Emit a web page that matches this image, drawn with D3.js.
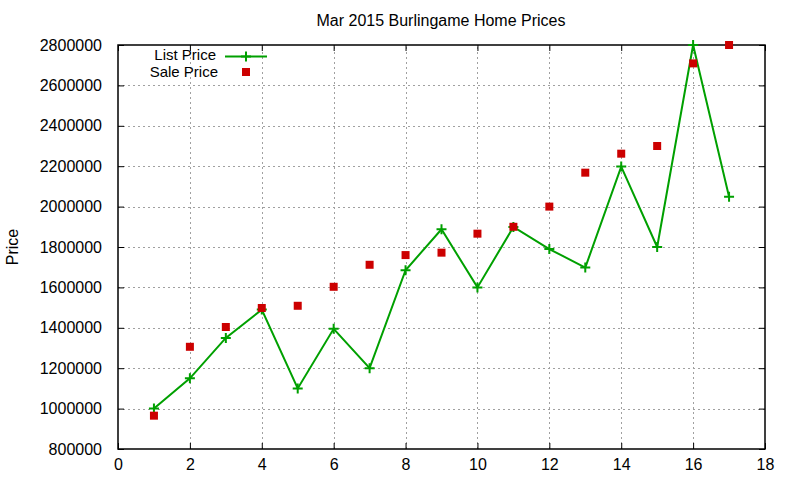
<!DOCTYPE html>
<html>
<head>
<meta charset="utf-8">
<script src="https://cdn.jsdelivr.net/npm/d3@7"></script>
<style>
	body { margin: 0; background: white; }
	svg { display: block; font-family: "Liberation Sans", Arial, sans-serif; }
</style>
</head>
<body>
<script>
// data
const months = [1, 2, 3, 4, 5, 6, 7, 8, 9, 10, 11, 12, 13, 14, 15, 16, 17];
const listPrice = [1000000, 1150000, 1350000, 1490000, 1100000, 1395000, 1200000, 1685000, 1888000,
	1600000, 1899000, 1790000, 1698000, 2198000, 1800000, 2800000, 2049000];
const salePrice = [965000, 1306000, 1404000, 1498000, 1509000, 1603000, 1712000, 1760000, 1772000,
	1866000, 1900000, 2000000, 2168000, 2262000, 2300000, 2709000, 2800000];
const xTicks = [0, 2, 4, 6, 8, 10, 12, 14, 16, 18];
const yTicks = [800000, 1000000, 1200000, 1400000, 1600000, 1800000, 2000000, 2200000, 2400000, 2600000, 2800000];

const W = 800, H = 480;
const margin = { top: 45, right: 35, bottom: 31, left: 118 };
const GREEN = "#00a000";
const RED = "#cc0000";
const GRID = "#a0a0a0";

const svg = d3.select("body").append("svg")
	.attr("width", W)
	.attr("height", H);

const x = d3.scaleLinear().domain([0, 18]).range([margin.left, W - margin.right]);
const y = d3.scaleLinear().domain([800000, 2800000]).range([H - margin.bottom, margin.top]);

// grid lines
const grid = svg.append("g")
	.attr("stroke", GRID)
	.attr("stroke-width", 1)
	.attr("stroke-dasharray", "2,3")
	.attr("shape-rendering", "crispEdges");

grid.selectAll(".gx")
	.data(xTicks.slice(1, -1))
	.join("line")
	.attr("x1", d => Math.round(x(d)) + 0.5)
	.attr("x2", d => Math.round(x(d)) + 0.5)
	.attr("y1", y.range()[0])
	.attr("y2", y.range()[1]);

grid.selectAll(".gy")
	.data(yTicks.slice(1, -1))
	.join("line")
	.attr("x1", x.range()[0])
	.attr("x2", x.range()[1])
	.attr("y1", d => Math.round(y(d)) + 0.5)
	.attr("y2", d => Math.round(y(d)) + 0.5);

// axes with inward ticks, mirrored on the opposite side
const tickLen = 6;
const fmt = d3.format("d");

const bottomAxis = svg.append("g")
	.attr("transform", `translate(0,${y.range()[0]})`)
	.call(d3.axisBottom(x).tickValues(xTicks).tickSizeInner(-tickLen).tickSizeOuter(0).tickPadding(10).tickFormat(fmt));
const topAxis = svg.append("g")
	.attr("transform", `translate(0,${y.range()[1]})`)
	.call(d3.axisTop(x).tickValues(xTicks).tickSizeInner(-tickLen).tickSizeOuter(0).tickFormat(""));
const leftAxis = svg.append("g")
	.attr("transform", `translate(${x.range()[0]},0)`)
	.call(d3.axisLeft(y).tickValues(yTicks).tickSizeInner(-tickLen).tickSizeOuter(0).tickPadding(16).tickFormat(fmt));
const rightAxis = svg.append("g")
	.attr("transform", `translate(${x.range()[1]},0)`)
	.call(d3.axisRight(y).tickValues(yTicks).tickSizeInner(-tickLen).tickSizeOuter(0).tickFormat(""));

[bottomAxis, topAxis, leftAxis, rightAxis].forEach(a => {
	a.select(".domain").remove();
	a.selectAll("line").attr("stroke", "black");
	a.selectAll("text")
		.attr("font-family", "Liberation Sans, Arial, sans-serif")
		.attr("font-size", 16)
		.attr("fill", "black");
});
bottomAxis.selectAll("text").attr("dy", "0.71em");

// frame
svg.append("rect")
	.attr("x", x.range()[0])
	.attr("y", y.range()[1])
	.attr("width", x.range()[1] - x.range()[0])
	.attr("height", y.range()[0] - y.range()[1])
	.attr("fill", "none")
	.attr("stroke", "black")
	.attr("stroke-width", 1.5);

// list price line
const listData = months.map((m, i) => ({ x: m, y: listPrice[i] }));
const saleData = months.map((m, i) => ({ x: m, y: salePrice[i] }));

const line = d3.line()
	.x(d => x(d.x))
	.y(d => y(d.y));

svg.append("path")
	.datum(listData)
	.attr("d", line)
	.attr("fill", "none")
	.attr("stroke", GREEN)
	.attr("stroke-width", 2);

const plusPath = (cx, cy, r) => `M${cx - r},${cy}H${cx + r}M${cx},${cy - r}V${cy + r}`;

svg.append("g")
	.selectAll("path")
	.data(listData)
	.join("path")
	.attr("d", d => plusPath(x(d.x), y(d.y), 5))
	.attr("stroke", GREEN)
	.attr("stroke-width", 2);

// sale price squares
const sq = 8;
svg.append("g")
	.selectAll("rect")
	.data(saleData)
	.join("rect")
	.attr("x", d => x(d.x) - sq / 2)
	.attr("y", d => y(d.y) - sq / 2)
	.attr("width", sq)
	.attr("height", sq)
	.attr("fill", RED);

// legend
const legend = svg.append("g")
	.attr("font-size", 15)
	.attr("text-anchor", "end");

legend.append("text").attr("x", 216).attr("y", 60).text("List Price");
legend.append("line")
	.attr("x1", 225).attr("x2", 267)
	.attr("y1", 56.5).attr("y2", 56.5)
	.attr("stroke", GREEN).attr("stroke-width", 2);
legend.append("path")
	.attr("d", plusPath(246, 56.5, 5))
	.attr("stroke", GREEN).attr("stroke-width", 2);

legend.append("text").attr("x", 218).attr("y", 77).text("Sale Price");
legend.append("rect")
	.attr("x", 246 - sq / 2).attr("y", 72 - sq / 2)
	.attr("width", sq).attr("height", sq)
	.attr("fill", RED);

// title and axis label
svg.append("text")
	.attr("x", 441)
	.attr("y", 26)
	.attr("text-anchor", "middle")
	.attr("font-size", 16)
	.text("Mar 2015 Burlingame Home Prices");

svg.append("text")
	.attr("transform", "translate(18,247) rotate(-90)")
	.attr("text-anchor", "middle")
	.attr("font-size", 16)
	.text("Price");
</script>
</body>
</html>
